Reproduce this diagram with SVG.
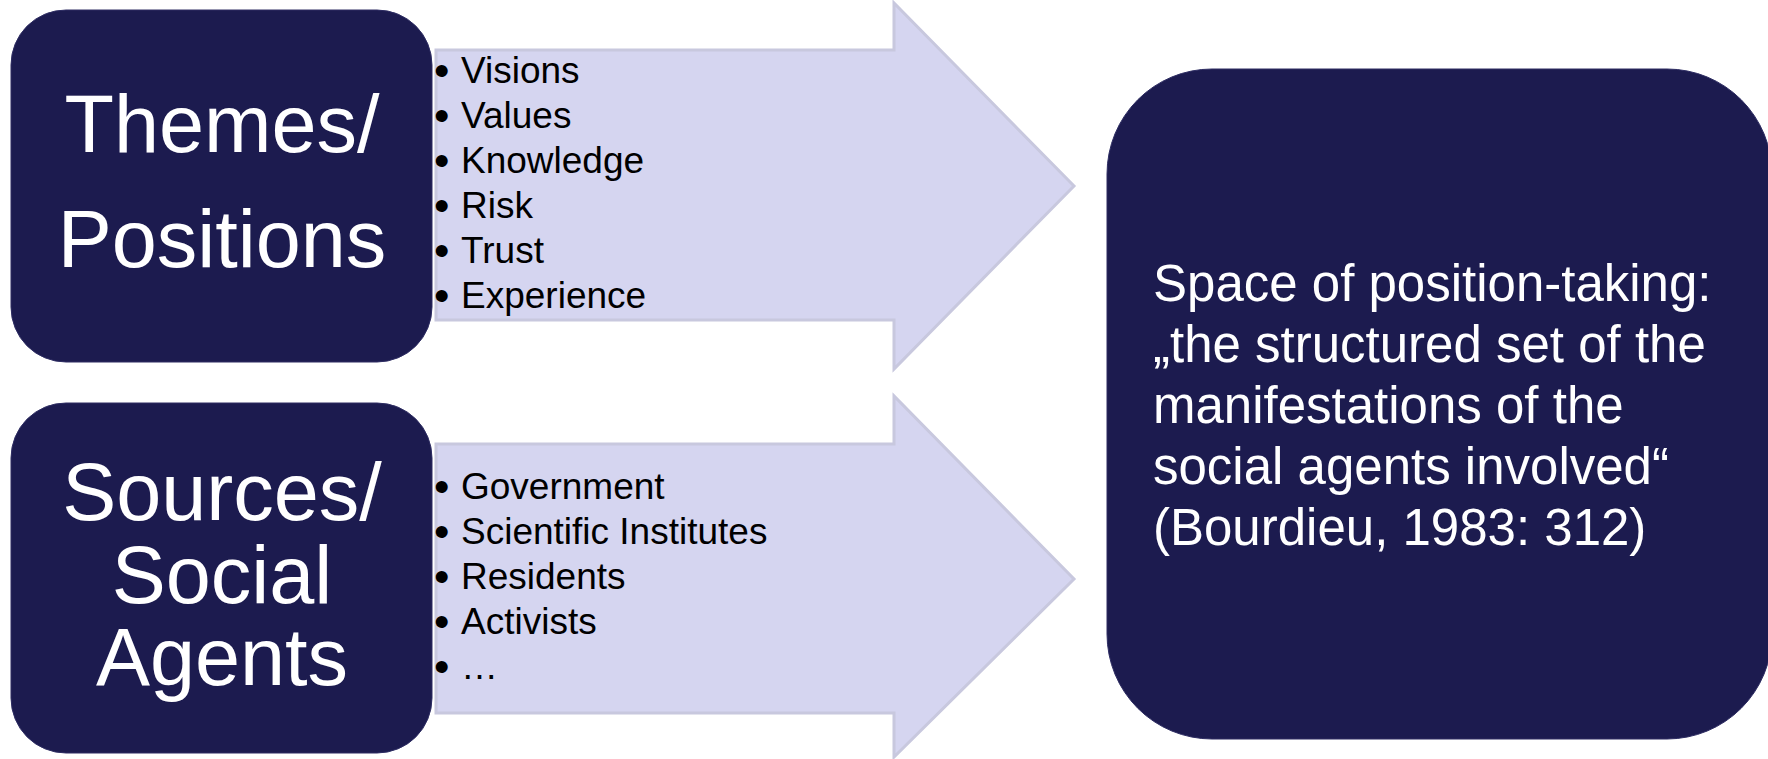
<svg xmlns="http://www.w3.org/2000/svg" width="1768" height="759" viewBox="0 0 1768 759">
  <style>
    .box { fill: #1c1b4f; stroke: #2e2d63; stroke-width: 1; }
    .arrow { fill: #d5d5f0; stroke: #c8c8de; stroke-width: 3; stroke-linejoin: miter; }
    .big { font-family: "Liberation Sans", Arial, sans-serif; font-size: 81px; fill: #ffffff; text-anchor: middle; }
    .item { font-family: "Liberation Sans", Arial, sans-serif; font-size: 37px; fill: #000000; }
    .bul { font-family: "Liberation Sans", Arial, sans-serif; font-size: 44px; fill: #000000; }
    .quote { font-family: "Liberation Sans", Arial, sans-serif; font-size: 51px; fill: #ffffff; }
  </style>
  <rect width="1768" height="759" fill="#ffffff"/>

  <g id="connectors">
    <g id="arrow-themes">
      <polygon class="arrow" points="436,50 894,50 894,3 1074,186 894,369 894,320 436,320"/>
      <text class="bul" x="434" y="86">•</text>
      <text class="bul" x="434" y="131">•</text>
      <text class="bul" x="434" y="176">•</text>
      <text class="bul" x="434" y="221">•</text>
      <text class="bul" x="434" y="266">•</text>
      <text class="bul" x="434" y="311">•</text>
      <text class="item" x="461" y="83">Visions</text>
      <text class="item" x="461" y="128">Values</text>
      <text class="item" x="461" y="173">Knowledge</text>
      <text class="item" x="461" y="218">Risk</text>
      <text class="item" x="461" y="263">Trust</text>
      <text class="item" x="461" y="308">Experience</text>
    </g>
    <g id="arrow-sources">
      <polygon class="arrow" points="436,444 894,444 894,396 1074,579 894,757 894,713 436,713"/>
      <text class="bul" x="434" y="502">•</text>
      <text class="bul" x="434" y="547">•</text>
      <text class="bul" x="434" y="592">•</text>
      <text class="bul" x="434" y="637">•</text>
      <text class="bul" x="434" y="682">•</text>
      <text class="item" x="461" y="499">Government</text>
      <text class="item" x="461" y="544">Scientific Institutes</text>
      <text class="item" x="461" y="589">Residents</text>
      <text class="item" x="461" y="634">Activists</text>
      <text class="item" x="461" y="679">…</text>
    </g>
  </g>

  <g id="node-themes">
    <rect class="box" x="11" y="10" width="421" height="352" rx="55" ry="55"/>
    <text class="big" x="222" y="152">Themes/</text>
    <text class="big" x="222" y="267">Positions</text>
  </g>

  <g id="node-sources">
    <rect class="box" x="11" y="403" width="421" height="350" rx="55" ry="55"/>
    <text class="big" x="222" y="520">Sources/</text>
    <text class="big" x="222" y="603">Social</text>
    <text class="big" x="222" y="685">Agents</text>
  </g>

  <g id="node-space">
    <rect class="box" x="1107" y="69" width="665" height="670" rx="105" ry="105"/>
    <text class="quote" x="1153" y="301">Space of position-taking:</text>
    <text class="quote" x="1153" y="362">„the structured set of the</text>
    <text class="quote" x="1153" y="423">manifestations of the</text>
    <text class="quote" x="1153" y="484">social agents involved“</text>
    <text class="quote" x="1153" y="545">(Bourdieu, 1983: 312)</text>
  </g>
</svg>
